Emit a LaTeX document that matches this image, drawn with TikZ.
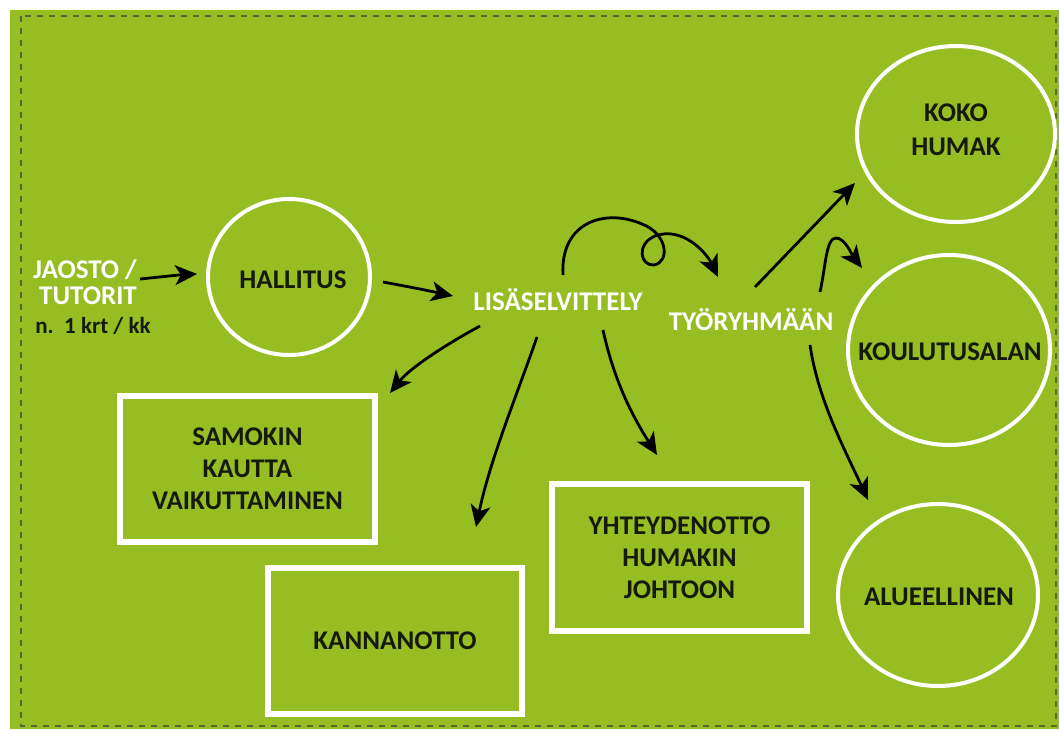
\documentclass[tikz,border=0pt]{standalone}
\usepackage{fontspec}
\setmainfont{Carlito}
\usetikzlibrary{shapes.geometric,arrows.meta}
\definecolor{bggreen}{RGB}{150,190,35}
\definecolor{dashcol}{RGB}{85,105,55}
\definecolor{txtdark}{RGB}{22,26,12}
\begin{document}
\begin{tikzpicture}[x=1pt,y=-1pt,
  circ/.style={ellipse, draw=white, line width=4pt, inner sep=0pt},
  ctext/.style={inner sep=0pt, align=center, text=txtdark, font=\fontsize{27}{34}\selectfont\bfseries},
  boxn/.style={rectangle, draw=white, line width=6pt, inner sep=0pt, align=center,
    text=txtdark, font=\fontsize{27}{32}\selectfont\bfseries},
  wlabel/.style={text=white, inner sep=0pt, font=\fontsize{27}{30}\selectfont\bfseries},
  dlabel/.style={text=txtdark, inner sep=0pt, font=\fontsize{23}{26}\selectfont\bfseries},
  arr/.style={-{Stealth[length=22pt,width=20pt,inset=6pt]}, line width=2.8pt, black}]
\useasboundingbox (0,0) rectangle (1059,729);
\fill[white] (0,0) rectangle (1059,729);
\fill[bggreen] (10,10) rectangle (1059,729);
\draw[dashcol, line width=1.6pt, dash pattern=on 6pt off 6pt] (21,16) rectangle (1056,726);

% circles
\node[circ, minimum width=162pt, minimum height=156pt] (hall) at (289,277) {};
\node[ctext] (hallT) at (293,280) {HALLITUS};
\node[circ, minimum width=198pt, minimum height=176pt] (koko) at (956,134) {};
\node[ctext] (kokoT) at (956,130) {KOKO\\HUMAK};
\node[circ, minimum width=202pt, minimum height=190pt] (koulu) at (949,350) {};
\node[ctext] (kouluT) at (950,352) {KOULUTUSALAN};
\node[circ, minimum width=200pt, minimum height=182pt] (alue) at (938,595) {};
\node[ctext] (alueT) at (939,597) {ALUEELLINEN};

% boxes
\node[boxn, minimum width=255pt, minimum height=146pt] (samokin) at (247.5,469) {SAMOKIN\\KAUTTA\\VAIKUTTAMINEN};
\node[boxn, minimum width=254pt, minimum height=146pt] (kanna) at (395,641) {KANNANOTTO};
\node[boxn, minimum width=255pt, minimum height=147pt] (yht) at (679.5,557.5) {YHTEYDENOTTO\\HUMAKIN\\JOHTOON};

% labels
\node[wlabel] (jaosto) at (85,270) {JAOSTO /};
\node[wlabel] (tutorit) at (88,296) {TUTORIT};
\node[dlabel] (krt) at (93,326) {n.\ \ 1 krt / kk};
\node[wlabel] (lisa) at (558,300) {LISÄSELVITTELY};
\node[wlabel] (tyo) at (751,320) {TYÖRYHMÄÄN};

% arrow end points
\coordinate (a1s) at (140,279); \coordinate (a1e) at (197,274);
\coordinate (a2s) at (383,282); \coordinate (a2e) at (453,296);
\coordinate (a3s) at (480,326); \coordinate (a3e) at (390,393);
\coordinate (a4s) at (537,337); \coordinate (a4e) at (476,527);
\coordinate (a5s) at (603,330); \coordinate (a5e) at (657,455);
\coordinate (a6s) at (563,275); \coordinate (a6e) at (718,277);
\coordinate (a7s) at (755,287); \coordinate (a7e) at (855,183);
\coordinate (a8s) at (820,292); \coordinate (a8e) at (862,268);
\coordinate (a9s) at (810,345); \coordinate (a9e) at (868,500);

\draw[arr] (a1s) .. controls (160,277) and (178,275) .. (a1e);
\draw[arr] (a2s) .. controls (405,286) and (430,291) .. (a2e);
\draw[arr] (a3s) .. controls (445,345) and (410,368) .. (a3e);
\draw[arr] (a4s) .. controls (515,400) and (490,460) .. (a4e);
\draw[arr] (a5s) .. controls (615,385) and (635,420) .. (a5e);
\draw[arr] (a6s) .. controls (560,222) and (605,208) .. (642,224)
  .. controls (668,234) and (670,262) .. (654,265)
  .. controls (640,266) and (636,244) .. (655,236)
  .. controls (682,226) and (706,252) .. (a6e);
\draw[arr] (a7s) -- (a7e);
\draw[arr] (a8s) .. controls (826,265) and (826,238) .. (836,238)
  .. controls (845,238) and (852,255) .. (a8e);
\draw[arr] (a9s) .. controls (818,400) and (845,450) .. (a9e);
\end{tikzpicture}
\end{document}
